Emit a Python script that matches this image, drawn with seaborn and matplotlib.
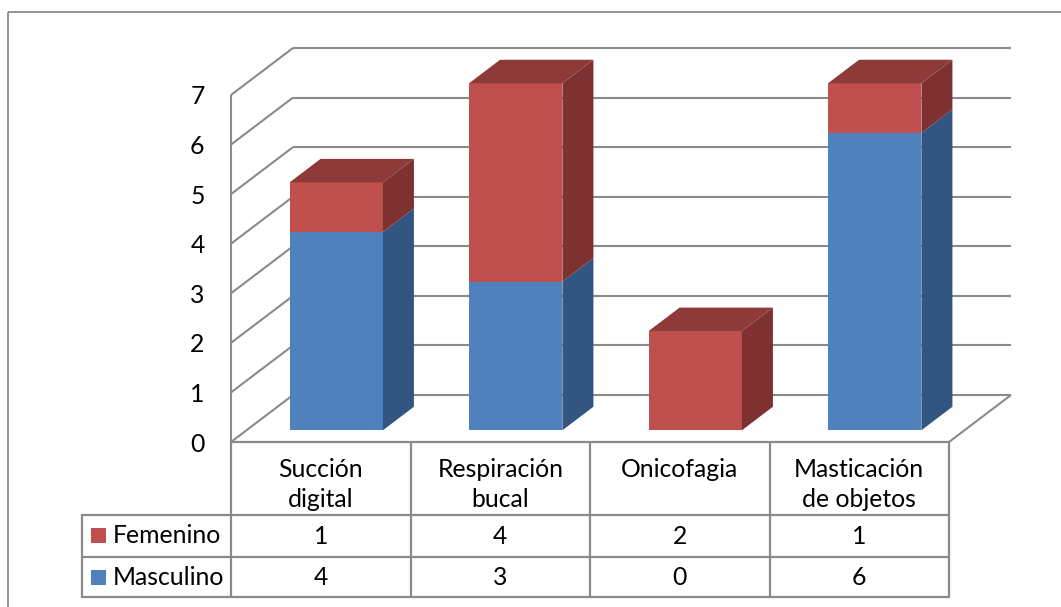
import matplotlib
matplotlib.use("Agg")
import matplotlib.pyplot as plt
import matplotlib.transforms as mtransforms
from matplotlib.patches import Polygon, Rectangle
from matplotlib.lines import Line2D
import pandas as pd
import seaborn as sns

# ---- data -------------------------------------------------------------
categorias = ["Succión\ndigital", "Respiración\nbucal", "Onicofagia", "Masticación\nde objetos"]
femenino = [1, 4, 2, 1]
masculino = [4, 3, 0, 6]
series = ["Femenino", "Masculino"]
ticks_y = [0, 1, 2, 3, 4, 5, 6, 7]

# ---- style ------------------------------------------------------------
sns.set_theme(style="white")
plt.rcParams["font.family"] = ["Lato", "DejaVu Sans"]

azul, azul_lado = "#4F81BD", "#335581"
rojo, rojo_lado, rojo_tapa = "#C0504D", "#7E3130", "#8E3A38"
gris = "#8A8A8A"
fs = 17.8

W, H = 1061, 607
fig = plt.figure(figsize=(W / 100, H / 100), dpi=100)
fig.patch.set_facecolor("white")

# pixel transform (origin top-left) for the frame and the data table
pix = mtransforms.Affine2D().scale(1, -1).translate(0, H)

# front plane of the 3-D box
x_left, x_right = 231, 949
y_zero, y_top = 442, 95
ax = fig.add_axes([x_left / W, 1 - y_zero / H, (x_right - x_left) / W, (y_zero - y_top) / H])

n = len(categorias)
ymax = ticks_y[-1]
col_w = (x_right - x_left) / n
unit_h = (y_zero - y_top) / ymax
# depth of the box, expressed in data units
DX = 62 / col_w
DY = 47 / unit_h
f0, fd = 0.25, 0.5        # bar start depth and bar depth (fractions of box depth)
bw = 0.52                 # bar width

# ---- walls and floor --------------------------------------------------
wall_kw = dict(color=gris, lw=1.5, clip_on=False, zorder=1, solid_capstyle="butt")
x0, x1 = -0.5, n - 0.5
for v in ticks_y:
    ax.add_line(Line2D([x0 + DX, x1 + DX], [v + DY, v + DY], **wall_kw))
    ax.add_line(Line2D([x0, x0 + DX], [v, v + DY], **wall_kw))
ax.add_line(Line2D([x0, x0], [0, ymax], **wall_kw))
ax.add_line(Line2D([x1, x1 + DX], [0, DY], **wall_kw))

# ---- bars (front faces via seaborn) ----------------------------------
df = pd.DataFrame({"habito": categorias, "Femenino": femenino, "Masculino": masculino})
df["total"] = df["Femenino"] + df["Masculino"]

sns.barplot(data=df, x="habito", y="total", color=rojo, saturation=1, width=bw,
            errorbar=None, ax=ax, zorder=3, linewidth=0)
sns.barplot(data=df, x="habito", y="Masculino", color=azul, saturation=1, width=bw,
            errorbar=None, ax=ax, zorder=4, linewidth=0)
for p in ax.patches:
    p.set_x(p.get_x() + f0 * DX)
    p.set_y(p.get_y() + f0 * DY)
    p.set_clip_on(False)

# side and top faces
for i, row in df.iterrows():
    xl = i - bw / 2 + f0 * DX
    xr = i + bw / 2 + f0 * DX
    yb = f0 * DY
    segs = [(0, row["Masculino"], azul_lado), (row["Masculino"], row["total"], rojo_lado)]
    for lo, hi, c in segs:
        if hi <= lo:
            continue
        ax.add_patch(Polygon([(xr, lo + yb), (xr + fd * DX, lo + yb + fd * DY),
                              (xr + fd * DX, hi + yb + fd * DY), (xr, hi + yb)],
                             closed=True, facecolor=c, edgecolor="none", zorder=5, clip_on=False))
    top = row["total"] + yb
    tapa = rojo_tapa if row["Femenino"] > 0 else azul_lado
    ax.add_patch(Polygon([(xl, top), (xr, top), (xr + fd * DX, top + fd * DY),
                          (xl + fd * DX, top + fd * DY)],
                         closed=True, facecolor=tapa, edgecolor="none", zorder=5, clip_on=False))

# ---- axes -------------------------------------------------------------
ax.set_xlim(x0, x1)
ax.set_ylim(0, ymax)
ax.set_yticks(ticks_y)
ax.set_yticklabels([str(t) for t in ticks_y])
ax.tick_params(axis="y", length=0, pad=19, labelsize=fs, labelcolor="black")
ax.set_xticks([])
ax.set_xlabel("")
ax.set_ylabel("")
for s in ax.spines.values():
    s.set_visible(False)
ax.patch.set_alpha(0)

# ---- data table -------------------------------------------------------
line_kw = dict(color=gris, lw=1.6, transform=pix, clip_on=False, zorder=2)
cols = [x_left + k * col_w for k in range(n + 1)]
r_head, r_fem, r_mas, r_end = 442, 515, 557, 597
t_left = 82
fig.add_artist(Line2D([cols[0], cols[-1]], [r_head, r_head], **line_kw))
for r in (r_fem, r_mas, r_end):
    fig.add_artist(Line2D([t_left, cols[-1]], [r, r], **line_kw))
fig.add_artist(Line2D([t_left, t_left], [r_fem, r_end], **line_kw))
for c in cols:
    fig.add_artist(Line2D([c, c], [r_head, r_end], **line_kw))

for k, cat in enumerate(categorias):
    cx = (cols[k] + cols[k + 1]) / 2
    for j, linea in enumerate(cat.split("\n")):
        fig.text(cx, 477 + 30 * j, linea, transform=pix, ha="center", va="baseline",
                 fontsize=fs, color="black")
    fig.text(cx, 544, str(femenino[k]), transform=pix, ha="center", va="baseline",
             fontsize=fs, color="black")
    fig.text(cx, 585, str(masculino[k]), transform=pix, ha="center", va="baseline",
             fontsize=fs, color="black")

for nombre, color, base in ((series[0], rojo, 543), (series[1], azul, 585)):
    fig.add_artist(Rectangle((91, base - 15), 15, 15, facecolor=color, edgecolor="none",
                             transform=pix))
    fig.text(113, base, nombre, transform=pix, ha="left", va="baseline",
             fontsize=fs, color="black")

# outer chart frame
fig.add_artist(Rectangle((8, 12), 1100, 700, facecolor="none", edgecolor=gris, lw=1.3,
                         transform=pix, zorder=0))

fig.savefig("out.png", dpi=100, facecolor="white")
